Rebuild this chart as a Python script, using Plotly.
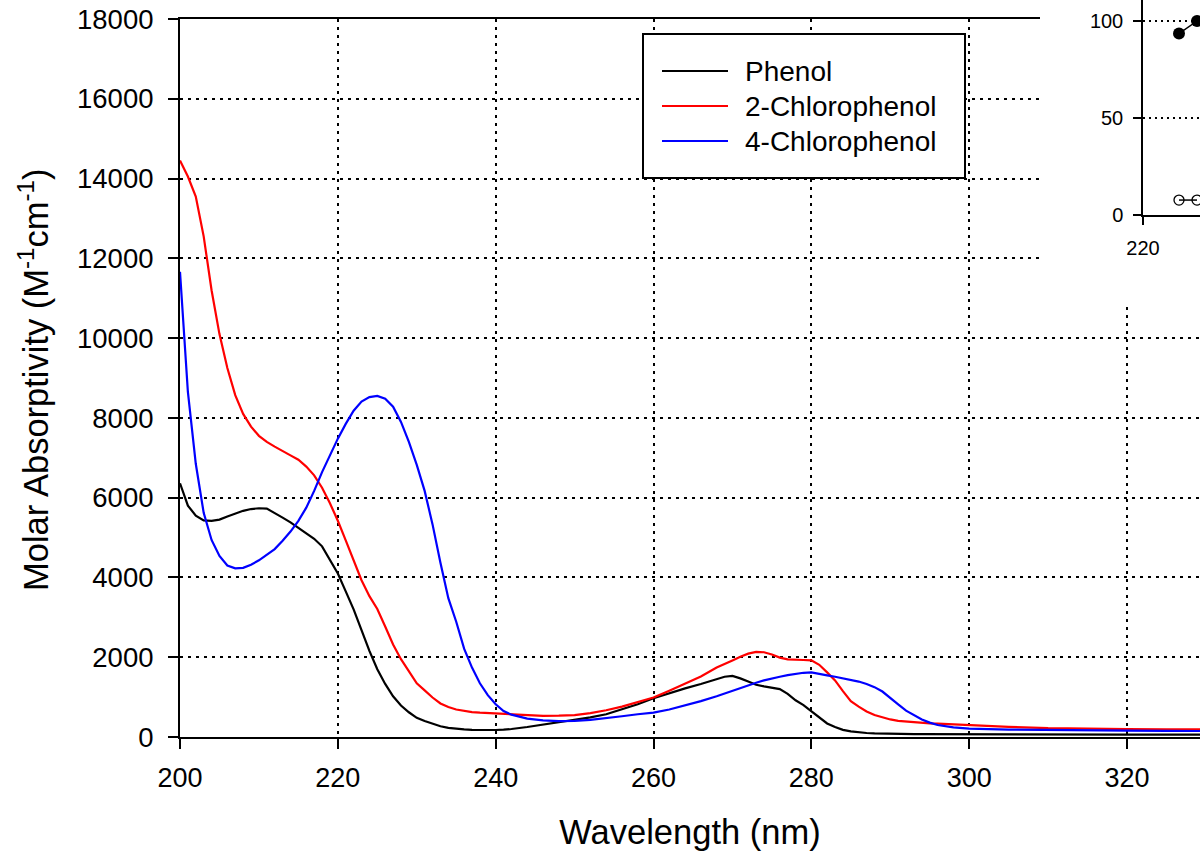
import plotly.graph_objects as go

# ---------------- data ----------------
wavelength = [200, 201, 202, 203, 204, 205, 206, 207, 208, 209, 210, 211, 212, 213, 214,
              215, 216, 217, 218, 219, 220, 221, 222, 223, 224, 225, 226, 227, 228, 229,
              230, 231, 232, 233, 234, 235, 236, 237, 238, 239, 240, 241, 242, 244, 246,
              248, 250, 252, 254, 256, 258, 260, 262, 264, 266, 268, 269, 270, 271, 272,
              273, 274, 275, 276, 277, 278, 279, 280, 281, 282, 283, 284, 285, 286, 287,
              288, 289, 290, 291, 292, 293, 294, 295, 296, 298, 300, 305, 310, 315, 320,
              325, 330]

phenol = [6360, 5800, 5550, 5430, 5420, 5450, 5530, 5610, 5670, 5715, 5735, 5725, 5620, 5500, 5380,
          5250, 5110, 4970, 4780, 4440, 4100, 3650, 3200, 2680, 2160, 1700, 1330, 1020, 790, 620,
          480, 400, 330, 270, 230, 205, 190, 178, 172, 172, 175, 185, 200, 250, 310,
          370, 430, 490, 570, 690, 820, 970, 1100, 1220, 1330, 1440, 1510, 1530, 1470, 1390,
          1310, 1270, 1240, 1200, 1080, 920, 800, 650, 480, 340, 250, 180, 140, 115, 100,
          90, 84, 80, 78, 76, 74, 73, 72, 71, 70, 70, 68, 65, 63, 62,
          61, 60]

chlorophenol_2 = [14450, 14050, 13550, 12550, 11200, 10100, 9250, 8570, 8100, 7780, 7550, 7400, 7280, 7180, 7060,
                  6950, 6780, 6560, 6250, 5860, 5420, 4930, 4430, 3930, 3530, 3210, 2770, 2320, 1950, 1650,
                  1346, 1170, 990, 840, 750, 690, 650, 625, 610, 600, 590, 578, 565, 540, 530,
                  535, 550, 600, 670, 760, 870, 990, 1160, 1340, 1515, 1740, 1820, 1920, 2010, 2090,
                  2135, 2125, 2070, 1990, 1945, 1930, 1930, 1920, 1810, 1620, 1420, 1150, 900, 760, 640,
                  550, 490, 440, 405, 385, 368, 355, 343, 335, 315, 300, 255, 220, 205, 198,
                  194, 190]

chlorophenol_4 = [11665, 8650, 6850, 5620, 4940, 4540, 4300, 4230, 4240, 4320, 4430, 4560, 4710, 4920, 5150,
                  5420, 5750, 6170, 6640, 7060, 7480, 7850, 8180, 8410, 8520, 8550, 8480, 8280, 7900, 7400,
                  6820, 6170, 5330, 4370, 3480, 2890, 2215, 1740, 1346, 1050, 820, 650, 560, 460, 415,
                  400, 405, 430, 470, 520, 570, 610, 690, 790, 900, 1020, 1090, 1170, 1235, 1300,
                  1360, 1420, 1470, 1510, 1550, 1580, 1610, 1620, 1590, 1545, 1510, 1470, 1430, 1390, 1330,
                  1250, 1140, 990, 820, 660, 540, 440, 360, 300, 240, 210, 185, 172, 165, 160,
                  155, 150]

series_names = ["Phenol", "2-Chlorophenol", "4-Chlorophenol"]
series_values = [phenol, chlorophenol_2, chlorophenol_4]
series_colors = ["#000000", "#ff0000", "#0000ff"]

x_ticks = [200, 220, 240, 260, 280, 300, 320, 340]
x_tick_labels = ["200", "220", "240", "260", "280", "300", "320", "340"]
y_ticks = [0, 2000, 4000, 6000, 8000, 10000, 12000, 14000, 16000, 18000]
y_tick_labels = ["0", "2000", "4000", "6000", "8000", "10000", "12000", "14000", "16000", "18000"]

x_title = "Wavelength (nm)"
y_title = "Molar Absorptivity (M<sup>-1</sup>cm<sup>-1</sup>)"

# inset (partly outside the picture)
inset_x = [230, 235]
inset_filled = [93.5, 100]
inset_open = [7.7, 7.7]
inset_x_ticks = [220, 240]
inset_x_tick_labels = ["220", "240"]
inset_y_ticks = [0, 50, 100]
inset_y_tick_labels = ["0", "50", "100"]

# ---------------- layout geometry (pixels) ----------------
W, H = 1200, 857
ML, MR, MT, MB = 180, 0, 0, 120
PW, PH = W - ML - MR, H - MT - MB


def px(xp):
    return (xp - ML) / PW


def py(yp):
    return (H - MB - yp) / PH


FONT = "Liberation Sans, Arial, sans-serif"
grid_dash = "3px,5px"

fig = go.Figure()

for name, vals, col in zip(series_names, series_values, series_colors):
    fig.add_trace(go.Scatter(x=wavelength, y=vals, mode="lines", name=name,
                             line=dict(color=col, width=2.2), showlegend=False,
                             xaxis="x", yaxis="y"))

# blank subplot that masks the main grid behind the inset region
fig.add_trace(go.Scatter(x=[None], y=[None], xaxis="x2", yaxis="y2",
                         showlegend=False, hoverinfo="skip"))

# inset
fig.add_trace(go.Scatter(x=inset_x, y=inset_filled, mode="lines+markers",
                         line=dict(color="black", width=1.5),
                         marker=dict(symbol="circle", size=12, color="black"),
                         xaxis="x3", yaxis="y3", showlegend=False, cliponaxis=False))
fig.add_trace(go.Scatter(x=inset_x, y=inset_open, mode="lines+markers",
                         line=dict(color="black", width=1.5),
                         marker=dict(symbol="circle-open", size=10, color="black",
                                     line=dict(width=1.3)),
                         xaxis="x3", yaxis="y3", showlegend=False))

fig.update_layout(
    width=W, height=H,
    margin=dict(l=ML, r=MR, t=MT, b=MB, autoexpand=False),
    paper_bgcolor="white", plot_bgcolor="white",
    font=dict(family=FONT, color="black"),
    showlegend=False,
    xaxis=dict(domain=[0, 1], range=[200, 200 + PW / 7.892], anchor="y",
               tickvals=x_ticks, ticktext=x_tick_labels, ticks="outside", ticklen=10,
               tickwidth=2, tickcolor="black", showline=True, linecolor="black",
               linewidth=2, mirror=True, showgrid=True, gridcolor="black", gridwidth=2,
               griddash=grid_dash, zeroline=False,
               tickfont=dict(size=27), ticklabelstandoff=6,
               title=dict(text=x_title, font=dict(size=34.5), standoff=27)),
    yaxis=dict(domain=[0, py(19)], range=[0, 18000], anchor="x",
               tickvals=y_ticks, ticktext=y_tick_labels, ticks="outside", ticklen=10,
               tickwidth=2, tickcolor="black", showline=True, linecolor="black",
               linewidth=2, showgrid=True, gridcolor="black", gridwidth=2,
               griddash=grid_dash, zeroline=False,
               tickfont=dict(size=27.5), ticklabelstandoff=9),
    xaxis2=dict(domain=[px(1040), 1], anchor="y2", visible=False, range=[0, 1]),
    yaxis2=dict(domain=[py(306), 1], anchor="x2", visible=False, range=[0, 1]),
    xaxis3=dict(domain=[px(1143), 1], anchor="y3", range=[220, 220 + 57 / 3.6],
                tickvals=inset_x_ticks, ticktext=inset_x_tick_labels, ticks="outside",
                ticklen=8, tickwidth=1.5, tickcolor="black", showline=True,
                linecolor="black", linewidth=1.5, showgrid=False, zeroline=False,
                tickfont=dict(size=20), ticklabelstandoff=6),
    yaxis3=dict(domain=[py(215), 1], anchor="x3", range=[0, 100 + 21 / 1.94],
                tickvals=inset_y_ticks, ticktext=inset_y_tick_labels, ticks="outside",
                ticklen=8, tickwidth=1.5, tickcolor="black", showline=True,
                linecolor="black", linewidth=1.5, showgrid=True, gridcolor="black",
                gridwidth=1.5, griddash="2px,4px", zeroline=False,
                tickfont=dict(size=20), ticklabelstandoff=6),
)

# y-axis title placed as a rotated annotation (closer to the edge than standoff allows)
annotations = [dict(xref="paper", yref="paper", x=px(33), y=py(380), text=y_title,
                    textangle=-90, showarrow=False, xanchor="center", yanchor="middle",
                    font=dict(size=34.5, family=FONT, color="black"))]

# hand-drawn legend box matching the reference
shapes = [dict(type="rect", xref="paper", yref="paper",
               x0=px(643), x1=px(965), y0=py(178), y1=py(34),
               line=dict(color="black", width=2), fillcolor="white", layer="above")]
rows = [71, 106, 141]
for name, col, yr in zip(series_names, series_colors, rows):
    shapes.append(dict(type="line", xref="paper", yref="paper",
                       x0=px(662), x1=px(728), y0=py(yr), y1=py(yr),
                       line=dict(color=col, width=2), layer="above"))
    annotations.append(dict(xref="paper", yref="paper", x=px(743), y=py(yr),
                            text=name, showarrow=False, xanchor="left", yanchor="middle",
                            font=dict(size=28, family=FONT, color="black")))
fig.update_layout(shapes=shapes, annotations=annotations)

fig.write_html("out.html", config={"displayModeBar": False},
               post_script="document.body.style.margin='0';document.body.style.overflow='hidden';")
